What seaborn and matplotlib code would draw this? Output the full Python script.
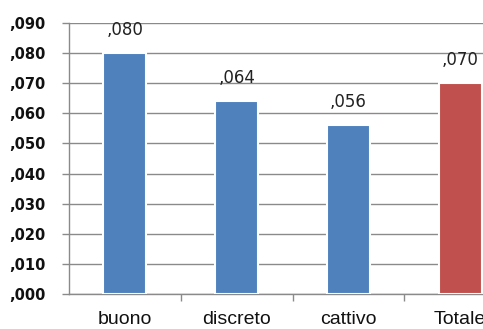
import matplotlib
matplotlib.use("Agg")
import matplotlib.pyplot as plt
import seaborn as sns
from matplotlib.ticker import FixedLocator, FuncFormatter

categories = ["buono", "discreto", "cattivo", "Totale"]
values = [0.080, 0.064, 0.056, 0.070]
value_labels = [",080", ",064", ",056", ",070"]
bar_colors = ["#4F81BD", "#4F81BD", "#4F81BD", "#C0504D"]
y_ticks = [0.000, 0.010, 0.020, 0.030, 0.040, 0.050, 0.060, 0.070, 0.080, 0.090]

sns.set_theme(style="white")
plt.rcParams["font.family"] = ["DejaVu Sans"]

fig = plt.figure(figsize=(4.83, 3.29), dpi=100)
ax = fig.add_axes([69 / 483, 1 - 294 / 329, 447 / 483, 271 / 329])

sns.barplot(x=categories, y=values, hue=categories, palette=bar_colors,
            legend=False, width=0.385, edgecolor="white", linewidth=1.5,
            saturation=1, ax=ax, zorder=3)

ax.set_xlim(-0.5, 3.5)
ax.set_ylim(0, 0.090)
ax.set_yticks(y_ticks)
ax.yaxis.set_major_formatter(FuncFormatter(lambda v, _: ",%03d" % round(v * 1000)))
ax.yaxis.grid(True, color="#8a8a8a", linewidth=1.0, zorder=0)
ax.set_axisbelow(True)

ax.xaxis.set_minor_locator(FixedLocator([0.5, 1.5, 2.5]))
ax.tick_params(axis="x", which="major", length=0, pad=12)
ax.tick_params(axis="x", which="minor", length=5, width=1, color="#8a8a8a",
               direction="out", bottom=True)
ax.tick_params(axis="y", which="major", length=5, width=1, color="#8a8a8a",
               direction="out", left=True, pad=12)
for lbl in ax.get_xticklabels():
    lbl.set_fontfamily("Liberation Sans")
    lbl.set_fontsize(14)
    lbl.set_color("#111111")
for lbl in ax.get_yticklabels():
    lbl.set_fontweight("bold")
    lbl.set_fontsize(10.5)
    lbl.set_color("#111111")

for side in ["top", "right"]:
    ax.spines[side].set_visible(False)
for side in ["left", "bottom"]:
    ax.spines[side].set_color("#8a8a8a")
    ax.spines[side].set_linewidth(1.0)

ax.set_xlabel("")
ax.set_ylabel("")

for i, (v, t) in enumerate(zip(values, value_labels)):
    ax.annotate(t, (i, v), xytext=(0, 13), textcoords="offset points",
                ha="center", va="baseline", fontsize=12, color="#222222")

fig.savefig("out.png", dpi=100)
